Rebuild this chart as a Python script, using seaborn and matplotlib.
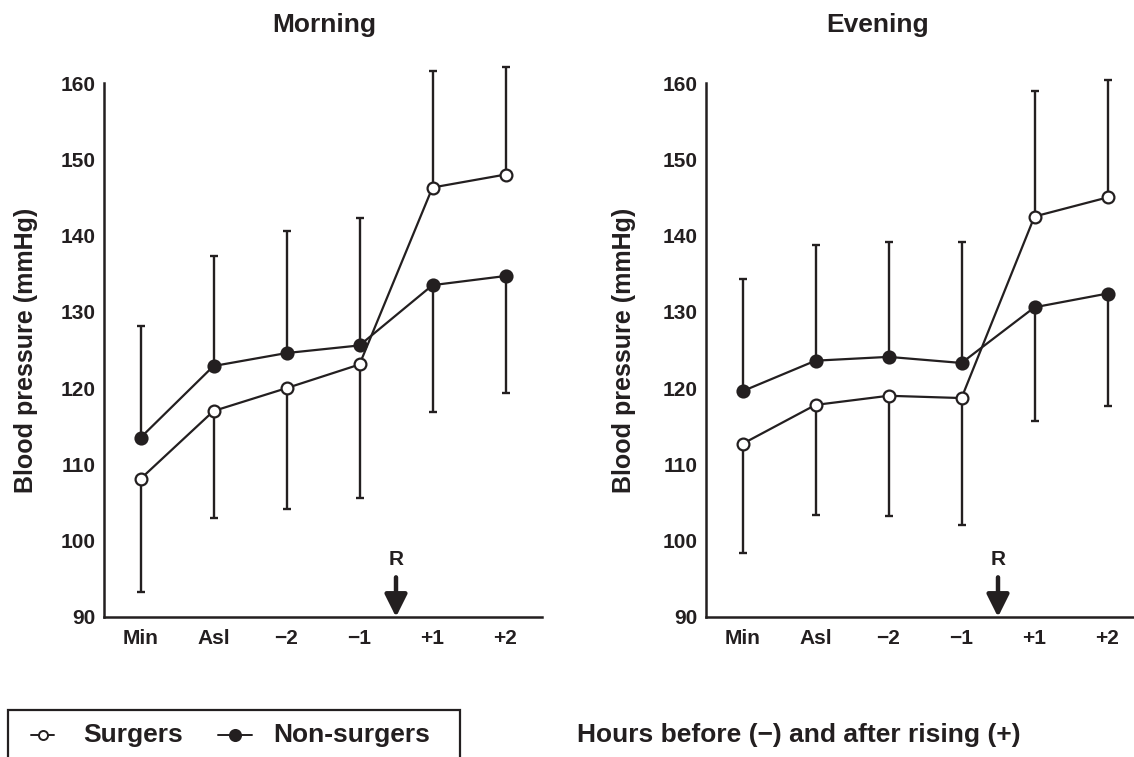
import numpy as np
import matplotlib
matplotlib.use("Agg")
import matplotlib.pyplot as plt
from matplotlib.lines import Line2D
from matplotlib.patches import Rectangle
import seaborn as sns

categories = ["Min", "Asl", "\u22122", "\u22121", "+1", "+2"]

# Morning: means and whisker ends
morning_surgers = [108.1, 117.0, 120.0, 123.1, 146.3, 148.0]
morning_surgers_bar = [93.3, 103.0, 104.1, 105.6, 161.6, 162.1]
morning_non = [113.5, 122.9, 124.6, 125.6, 133.5, 134.7]
morning_non_bar = [128.1, 137.3, 140.6, 142.3, 116.9, 119.4]

# Evening
evening_surgers = [112.7, 117.8, 119.0, 118.7, 142.5, 145.0]
evening_surgers_bar = [98.4, 103.4, 103.3, 102.1, 158.9, 160.4]
evening_non = [119.6, 123.6, 124.1, 123.3, 130.6, 132.4]
evening_non_bar = [134.3, 138.7, 139.2, 139.2, 115.7, 117.7]

legend_labels = ["Surgers", "Non-surgers"]

ink = "#231f20"
sns.set_style("white")
plt.rcParams["font.family"] = ["Liberation Sans", "DejaVu Sans"]
plt.rcParams["font.weight"] = "bold"

W, H = 1134, 757
fig = plt.figure(figsize=(W / 100, H / 100), dpi=100)


def px_axes(l, t, r, b):
    return fig.add_axes([l / W, 1 - b / H, (r - l) / W, (b - t) / H])


def one_sided(mean, bar):
    mean = np.asarray(mean)
    bar = np.asarray(bar)
    lo = np.where(bar < mean, mean - bar, 0)
    hi = np.where(bar > mean, bar - mean, 0)
    return [lo, hi]


def panel(ax, surg, surg_bar, non, non_bar, labelpad):
    x = np.arange(len(categories))
    for mean, bar in [(surg, surg_bar), (non, non_bar)]:
        ax.errorbar(x, mean, yerr=one_sided(mean, bar), fmt="none",
                    ecolor=ink, elinewidth=1.7, capsize=3, capthick=1.7,
                    clip_on=False, zorder=1)
    sns.lineplot(x=x, y=non, ax=ax, color=ink, lw=1.6, marker="o",
                 markersize=9, markerfacecolor=ink, markeredgecolor=ink,
                 markeredgewidth=1.2, clip_on=False, zorder=3)
    sns.lineplot(x=x, y=surg, ax=ax, color=ink, lw=1.6, marker="o",
                 markersize=8.5, markerfacecolor="white", markeredgecolor=ink,
                 markeredgewidth=1.6, clip_on=False, zorder=4)
    ax.set_xlim(-0.5, 5.5)
    ax.set_ylim(90, 160)
    ax.set_xticks(x)
    ax.set_xticklabels(categories)
    ax.set_yticks(range(90, 161, 10))
    ax.tick_params(length=0, labelsize=15, colors=ink)
    ax.tick_params(axis="x", pad=9)
    ax.tick_params(axis="y", pad=6)
    for lab in ax.get_xticklabels() + ax.get_yticklabels():
        lab.set_fontweight("bold")
    sns.despine(ax=ax)
    for s in ["left", "bottom"]:
        ax.spines[s].set_linewidth(1.8)
        ax.spines[s].set_color(ink)
    ax.set_ylabel("Blood pressure (mmHg)", fontsize=18, fontweight="bold",
                  color=ink, labelpad=labelpad)
    ax.set_xlabel("")
    ax.annotate("", xy=(3.5, 90), xytext=(3.5, 95.2),
                arrowprops=dict(arrowstyle="-|>,head_width=0.45,head_length=0.9",
                                lw=3.2, color=ink, shrinkA=0, shrinkB=0,
                                mutation_scale=15))
    ax.text(3.5, 96.3, "R", ha="center", va="bottom", fontsize=15,
            fontweight="bold", color=ink)
    ax.patch.set_alpha(0)


ax1 = px_axes(104, 83, 542, 617)
ax2 = px_axes(706, 83, 1144, 617)
panel(ax1, morning_surgers, morning_surgers_bar, morning_non, morning_non_bar, 16)
panel(ax2, evening_surgers, evening_surgers_bar, evening_non, evening_non_bar, 19)

fig.text(324 / W, 1 - 25 / H, "Morning", ha="center", va="center",
         fontsize=19, fontweight="bold", color=ink)
fig.text(878 / W, 1 - 25 / H, "Evening", ha="center", va="center",
         fontsize=19, fontweight="bold", color=ink)

# legend box, open at the bottom edge of the figure
fig.patches.append(Rectangle((8 / W, -0.1), 452 / W, 0.1 + 1 - 710 / H,
                             transform=fig.transFigure, fill=False,
                             edgecolor=ink, lw=1.6))
leg_y = 1 - 735 / H
handle_spans = [(31, 54), (218, 252)]
text_x = [83, 273]
for i, label in enumerate(legend_labels):
    x0, x1 = handle_spans[i]
    fig.add_artist(Line2D([x0 / W, x1 / W], [leg_y, leg_y],
                          transform=fig.transFigure, color=ink, lw=1.4))
    filled = i == 1
    fig.add_artist(Line2D([(x0 + x1) / 2 / W], [leg_y], transform=fig.transFigure,
                          marker="o", markersize=8 if filled else 6.5,
                          markerfacecolor=ink if filled else "white",
                          markeredgecolor=ink, markeredgewidth=1.4, lw=0))
    fig.text(text_x[i] / W, leg_y, label, ha="left", va="center",
             fontsize=19, fontweight="bold", color=ink)

fig.text(577 / W, 1 - 735 / H, "Hours before (\u2212) and after rising (+)",
         ha="left", va="center", fontsize=19, fontweight="bold", color=ink)

fig.savefig("out.png", dpi=100)
